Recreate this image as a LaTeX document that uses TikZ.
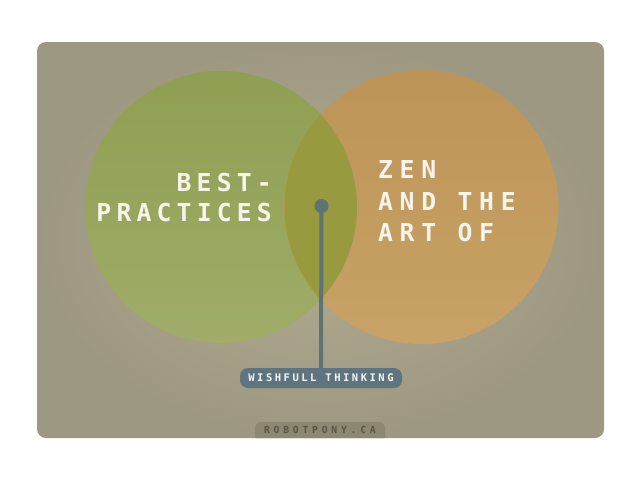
\documentclass[tikz,border=0pt]{standalone}
\usepackage{fontspec}
\newfontfamily\pixbig{DejaVu Sans Mono}[LetterSpace=21]
\newfontfamily\pixbigwide{DejaVu Sans Mono}[LetterSpace=27]
\newfontfamily\pixsmall{DejaVu Sans Mono}[LetterSpace=24]
\newfontfamily\pixtiny{DejaVu Sans Mono}[LetterSpace=38]
\definecolor{cardin}{HTML}{B3AB90}
\definecolor{cardout}{HTML}{9D9882}
\definecolor{vgreentop}{HTML}{8F9F52}
\definecolor{vgreenbot}{HTML}{A0AC68}
\definecolor{vorangetop}{HTML}{BD9457}
\definecolor{vorangebot}{HTML}{C8A266}
\definecolor{vboth}{HTML}{989A40}
\definecolor{pincol}{HTML}{5E7374}
\definecolor{pillcol}{HTML}{5E7480}
\definecolor{textcol}{HTML}{F6F4EC}
\definecolor{signfill}{HTML}{8D8872}
\definecolor{signtext}{HTML}{5A5444}
\tikzset{
  bigtext/.style={font=\pixbig\bfseries\fontsize{24.7}{30}\selectfont, text=textcol, inner sep=0pt},
  bigwide/.style={font=\pixbigwide\bfseries\fontsize{24.7}{31.5}\selectfont, text=textcol, inner sep=0pt},
  wishbox/.style={fill=pillcol, rounded corners=8pt, minimum width=162pt, minimum height=20pt, inner sep=0pt,
    text=textcol, font=\pixsmall\bfseries\fontsize{10.5}{12}\selectfont},
  signtextstyle/.style={text=signtext, font=\pixtiny\bfseries\fontsize{9.8}{11}\selectfont, inner sep=0pt},
  pinline/.style={draw=pincol, line width=4pt}
}
\begin{document}
\begin{tikzpicture}[x=1pt,y=-1pt]
\useasboundingbox (0,0) rectangle (640,480);
\fill[white] (0,0) rectangle (640,480);
% card
\shade[rounded corners=9pt, inner color=cardin, outer color=cardout] (37,42) rectangle (604,438);
% circles
\shade[top color=vgreentop, bottom color=vgreenbot] (221,207) circle[radius=136];
\shade[top color=vorangetop, bottom color=vorangebot] (421.5,207) circle[radius=137];
\begin{scope}
  \clip (221,207) circle[radius=136];
  \fill[vboth] (421.5,207) circle[radius=137];
\end{scope}
% signature tab
\begin{scope}
  \clip[rounded corners=9pt] (37,42) rectangle (604,438);
  \fill[signfill, rounded corners=6pt] (255,422) rectangle (385,452);
\end{scope}
\node[signtextstyle] (sign) at (320,430) {ROBOTPONY.CA};
% labels
\node[bigtext, anchor=east, align=right] (best) at (272,198) {BEST-\\PRACTICES};
\node[bigwide, anchor=west, align=left] (zen) at (378,201.5) {ZEN\\AND THE\\ART OF};
% pin and label
\node[circle, fill=pincol, minimum size=14pt, inner sep=0pt] (pin) at (321.5,206) {};
\node[wishbox] (wish) at (321,378) {WISHFULL THINKING};
\draw[pinline] (pin.center) -- (wish.north);
\end{tikzpicture}
\end{document}
